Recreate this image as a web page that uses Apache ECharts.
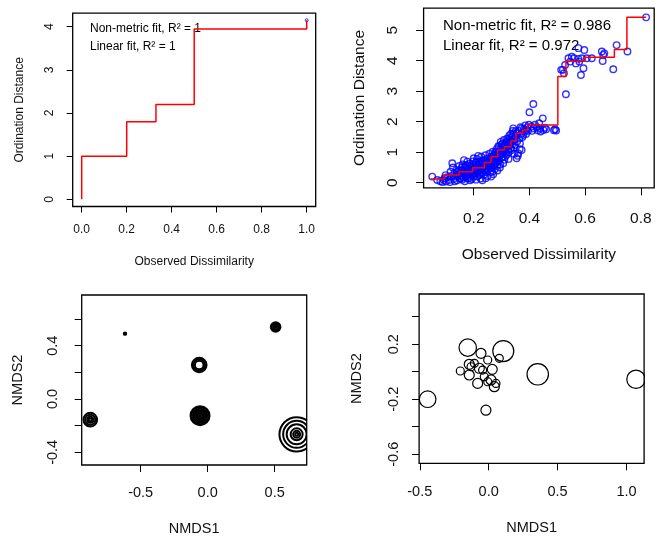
<!DOCTYPE html>
<html><head><meta charset="utf-8">
<script src="https://cdn.jsdelivr.net/npm/echarts@6/dist/echarts.min.js"></script>
<style>html,body{margin:0;padding:0;background:#fff}#c{width:662px;height:539px}</style>
</head><body><div id="c"></div><script>
// ---------- DATA ----------
// Panel 1: Shepard step (non-metric fit)
const stepA_x = [0, 0, 0.2, 0.33, 0.5, 1.0, 1.0];
const stepA_y = [0, 1, 1.8, 2.2, 3.95, 3.95, 4.15];
const shepA_pts = [[1.0, 4.15]];
// Panel 2: Shepard step + observed points
const stepB_x = [0.046, 0.094, 0.148, 0.196, 0.238, 0.262, 0.286, 0.31, 0.334, 0.352, 0.376, 0.394, 0.502, 0.531, 0.60, 0.705, 0.75, 0.819];
const stepB_y = [0.12, 0.25, 0.36, 0.49, 0.66, 0.85, 1.07, 1.18, 1.37, 1.62, 1.73, 1.89, 3.48, 3.99, 4.11, 4.37, 5.42, 5.42];
const shepB_pts = [
[0.051,0.20],[0.069,0.09],[0.08,0.05],[0.093,0.09],[0.099,0.25],[0.095,0.15],[0.088,0.02],[0.1,0.04],
[0.111,0.09],[0.117,0.36],[0.105,0.18],[0.12,0.22],[0.123,0.64],[0.125,0.5],[0.13,0.3],[0.128,0.12],[0.135,0.20],[0.138,0.42],[0.141,0.36],[0.14,0.08],[0.145,0.28],[0.148,0.55],[0.15,0.14],[0.115,0.02],[0.132,0.05],
[0.153,0.14],[0.155,0.4],[0.158,0.25],[0.16,0.6],[0.162,0.33],[0.165,0.74],[0.167,0.48],[0.17,0.2],[0.172,0.38],[0.175,0.55],[0.177,0.69],[0.177,0.14],[0.18,0.3],[0.182,0.45],[0.185,0.62],[0.187,0.08],[0.19,0.35],[0.192,0.5],[0.195,0.25],[0.197,0.7],[0.2,0.42],[0.2,0.8],[0.201,0.2],[0.158,0.1],[0.168,0.05],[0.183,0.15],[0.193,0.12],
[0.203,0.55],[0.205,0.32],[0.207,0.65],[0.21,0.45],[0.212,0.78],[0.213,0.2],[0.215,0.38],[0.218,0.6],[0.22,0.5],[0.222,0.7],[0.225,0.14],[0.225,0.3],[0.227,0.85],[0.23,0.42],[0.232,0.62],[0.234,0.55],[0.236,0.25],[0.238,0.75],[0.24,0.48],[0.242,0.9],[0.244,0.35],[0.246,0.65],[0.248,0.58],[0.25,0.8],[0.25,0.22],[0.208,0.1],[0.219,0.25],[0.231,0.08],[0.243,0.15],[0.216,0.88],
[0.252,0.45],[0.254,0.7],[0.256,0.95],[0.258,0.55],[0.26,0.35],[0.261,0.64],[0.263,0.85],[0.265,0.5],[0.267,0.36],[0.268,1.02],[0.27,0.75],[0.272,0.6],[0.274,0.9],[0.276,0.45],[0.278,0.8],[0.279,0.96],[0.28,0.65],[0.282,1.1],[0.284,0.55],[0.286,0.85],[0.288,1.2],[0.29,0.72],[0.291,1.18],[0.293,0.95],[0.295,0.6],[0.297,1.34],[0.298,1.05],[0.3,0.82],[0.3,1.25],[0.27,0.28],[0.285,0.4],[0.262,0.2],[0.294,0.5],
[0.302,0.95],[0.304,1.15],[0.306,0.64],[0.308,1.4],[0.31,1.05],[0.312,0.85],[0.314,1.3],[0.316,1.1],[0.318,0.91],[0.32,1.45],[0.322,1.2],[0.324,1.29],[0.326,1.0],[0.328,1.55],[0.33,1.35],[0.332,1.12],[0.334,1.6],[0.336,1.51],[0.336,1.07],[0.338,1.25],[0.34,1.7],[0.342,1.78],[0.344,1.4],[0.346,1.15],[0.348,1.24],[0.35,1.55],[0.31,0.75],[0.325,0.78],[0.345,0.95],
[0.354,1.62],[0.354,0.80],[0.356,1.35],[0.36,0.96],[0.362,1.7],[0.364,1.45],[0.366,1.29],[0.368,1.82],[0.37,1.6],[0.372,1.78],[0.372,1.07],[0.375,1.5],[0.378,1.56],[0.38,1.75],[0.382,1.68],[0.385,1.88],[0.388,1.6],[0.39,1.73],[0.392,1.82],[0.395,1.7],[0.398,1.9],[0.358,0.88],[0.365,1.1],
[0.40,2.31],[0.414,2.58],[0.408,1.84],[0.41,1.7],[0.415,1.78],[0.42,1.9],[0.426,1.82],[0.43,1.72],[0.435,1.95],[0.438,1.78],[0.44,1.68],[0.448,2.11],[0.45,1.73],[0.455,1.8],[0.46,1.75],[0.492,1.75],[0.496,1.71],[0.488,1.72],
[0.514,3.70],[0.52,3.70],[0.524,3.59],[0.531,2.90],[0.528,3.86],[0.54,4.08],[0.546,3.97],[0.552,4.13],[0.56,4.08],[0.567,3.91],[0.576,4.41],[0.576,4.06],[0.585,3.53],[0.588,4.08],[0.594,3.75],[0.597,4.35],[0.579,3.97],[0.606,4.08],[0.624,4.08],[0.66,4.30],[0.665,4.19],[0.663,3.99],[0.669,4.24],[0.701,3.72],[0.713,4.51],[0.752,4.30],[0.819,5.42],
[0.142,0.22],[0.147,0.4],[0.152,0.3],[0.157,0.5],[0.163,0.18],[0.166,0.36],[0.171,0.58],[0.174,0.27],[0.179,0.42],[0.184,0.3],[0.188,0.55],[0.191,0.22],[0.194,0.4],[0.198,0.6],[0.202,0.3],[0.206,0.5],[0.209,0.68],[0.211,0.35],[0.214,0.55],[0.217,0.42],[0.221,0.62],[0.224,0.48],[0.228,0.7],[0.229,0.35],[0.233,0.5],[0.237,0.62],[0.239,0.4],[0.241,0.72],[0.245,0.55],[0.247,0.45],[0.249,0.68],[0.253,0.6],[0.257,0.78],[0.259,0.48],[0.264,0.7],[0.266,0.62],[0.269,0.88],[0.271,0.55],[0.275,0.7],[0.277,1.0],[0.281,0.78],[0.283,0.92],[0.287,0.7],[0.289,1.0],[0.292,0.85],[0.296,1.12],[0.299,0.95],[0.303,1.28],[0.307,1.02],[0.311,1.22],[0.315,0.98],[0.319,1.35],[0.323,1.08],[0.327,1.42],[0.331,1.25],[0.335,1.35],[0.339,1.5],[0.343,1.62],[0.347,1.45],[0.351,1.7]
];
// Panel 3: site bubbles (NMDS1, NMDS2, bubble size)
const sitesA_x = [-0.617, 0.507,0.507,0.507,0.507, -0.063,-0.063,-0.063, -0.057,-0.057,-0.057,-0.057,-0.057,-0.057,-0.057, -0.876,-0.876,-0.876,-0.876, 0.664,0.664,0.664,0.664,0.664,0.664];
const sitesA_y = [0.49, 0.54,0.54,0.54,0.54, 0.255,0.255,0.255, -0.125,-0.125,-0.125,-0.125,-0.125,-0.125,-0.125, -0.155,-0.155,-0.155,-0.155, -0.265,-0.265,-0.265,-0.265,-0.265,-0.265];
const sitesA_size = [0.12, 0.1,0.25,0.4,0.48, 0.43,0.58,0.73, 0.1,0.25,0.4,0.55,0.7,0.85,0.95, 0.15,0.3,0.5,0.68, 0.15,0.35,0.6,1.0,1.35,1.72];
// Panel 4: site bubbles
const sitesB_x = [-0.443,-0.152,0.106,0.356,1.069,-0.02,-0.206,-0.141,-0.141,-0.056,-0.08,-0.007,0.026,0.017,0.041,0.077,-0.068,-0.104,-0.032,-0.044,-0.007,-0.128,0.053];
const sitesB_y = [-0.2,0.175,0.15,-0.019,-0.055,-0.28,0.005,0.054,-0.024,0.134,-0.085,0.085,0.017,-0.06,-0.109,0.097,0.025,0.061,-0.036,0.012,-0.073,0.036,-0.085];
const sitesB_size = [0.83,0.87,1.05,1.07,0.92,0.5,0.4,0.5,0.5,0.5,0.5,0.4,0.5,0.5,0.5,0.4,0.5,0.4,0.4,0.4,0.4,0.4,0.4];
// Tick values
const ticksA_x = [0, 0.2, 0.4, 0.6, 0.8, 1.0];
const ticksA_y = [0, 1, 2, 3, 4];
const ticksB_x = [0.2, 0.4, 0.6, 0.8];
const ticksB_y = [0, 1, 2, 3, 4, 5];
const ticksC_x = [-0.5, 0, 0.5];
const ticksC_y = [-0.4, -0.2, 0, 0.2, 0.4, 0.6];
const labelsC_y = [-0.4, 0, 0.4];
const ticksD_x = [-0.5, 0, 0.5, 1.0];
const ticksD_y = [-0.6, -0.4, -0.2, 0, 0.2, 0.4];
const labelsD_y = [-0.6, -0.2, 0.2];

// ---------- CHART ----------
const FONT = '"Liberation Sans", Arial, sans-serif';
const chart = echarts.init(document.getElementById('c'));

function ax(o) {
  return {
    type: 'value', gridIndex: o.g, min: o.min, max: o.max,
    axisLine: { show: false, onZero: false },
    splitLine: { show: false },
    axisTick: { show: true, length: o.tl || 6, lineStyle: { color: '#000', width: 1 }, customValues: o.ticks },
    axisLabel: {
      customValues: o.labels || o.ticks, rotate: o.rot || 0, margin: o.lm,
      fontSize: o.fs, fontFamily: FONT, color: '#111',
      align: 'center', verticalAlign: 'middle',
      formatter: o.fmt
    },
    name: o.name, nameLocation: 'middle', nameGap: o.ng, nameRotate: o.rot || 0,
    nameMoveOverlap: false,
    nameTextStyle: { fontSize: o.fs, fontFamily: FONT, color: '#111', align: 'center', verticalAlign: 'middle' }
  };
}
const f1 = v => v.toFixed(1), f0 = v => v.toFixed(0);

function bubbles(xs, ys, ss, gi, lw) {
  return {
    type: 'custom', xAxisIndex: gi, yAxisIndex: gi, clip: true,
    data: xs.map((x, i) => [x, ys[i], ss[i]]),
    encode: { x: 0, y: 1 },
    renderItem: (p, api) => {
      const c = api.coord([api.value(0), api.value(1)]);
      return { type: 'circle', shape: { cx: c[0], cy: c[1], r: api.value(2) * 10 },
        style: { fill: 'none', stroke: '#000', lineWidth: lw } };
    }
  };
}
const gridBase = { show: true, borderColor: '#000', borderWidth: 1.3, backgroundColor: 'transparent', containLabel: false, outerBoundsMode: 'none' };

chart.setOption({
  animation: false,
  grid: [
    Object.assign({ left: 72.7, top: 13.1, width: 243, height: 193.4 }, gridBase),
    Object.assign({ left: 423.6, top: 8.2, width: 230.6, height: 179.7 }, gridBase),
    Object.assign({ left: 81.7, top: 295, width: 225, height: 170 }, gridBase),
    Object.assign({ left: 419.1, top: 294, width: 225, height: 169.3 }, gridBase)
  ],
  xAxis: [
    ax({ g: 0, min: -0.04, max: 1.04, ticks: ticksA_x, lm: 23.5, fs: 12, fmt: f1, name: 'Observed Dissimilarity', ng: 55.5 }),
    ax({ g: 1, min: 0.02, max: 0.848, ticks: ticksB_x, lm: 30.4, fs: 15.5, fmt: f1, name: 'Observed Dissimilarity', ng: 67, tl: 7.5 }),
    ax({ g: 2, min: -0.94, max: 0.739, ticks: ticksC_x, lm: 28.3, fs: 14.5, fmt: f1, name: 'NMDS1', ng: 64.3, tl: 7 }),
    ax({ g: 3, min: -0.505, max: 1.128, ticks: ticksD_x, lm: 28.4, fs: 14.5, fmt: f1, name: 'NMDS1', ng: 65, tl: 7 })
  ],
  yAxis: [
    ax({ g: 0, min: -0.166, max: 4.316, ticks: ticksA_y, lm: 23, fs: 12, fmt: f0, rot: 90, name: 'Ordination Distance', ng: 53 }),
    ax({ g: 1, min: -0.17, max: 5.72, ticks: ticksB_y, lm: 31, fs: 15.5, fmt: f0, rot: 90, name: 'Ordination Distance', ng: 64, tl: 7.5 }),
    ax({ g: 2, min: -0.495, max: 0.78, ticks: ticksC_y, labels: labelsC_y, lm: 28.4, fs: 14.5, fmt: f1, rot: 90, name: 'NMDS2', ng: 63.4, tl: 7 }),
    ax({ g: 3, min: -0.666, max: 0.565, ticks: ticksD_y, labels: labelsD_y, lm: 24.8, fs: 14.5, fmt: f1, rot: 90, name: 'NMDS2', ng: 62, tl: 7 })
  ],
  series: [
    { type: 'scatter', xAxisIndex: 0, yAxisIndex: 0, data: shepA_pts, symbol: 'circle', symbolSize: 3,
      itemStyle: { color: 'transparent', borderColor: '#0000ff', borderWidth: 1 } },
    { type: 'line', xAxisIndex: 0, yAxisIndex: 0, step: 'end', symbol: 'none',
      data: stepA_x.map((x, i) => [x, stepA_y[i]]), lineStyle: { color: '#ff0000', width: 1.5 } },
    { type: 'scatter', xAxisIndex: 1, yAxisIndex: 1, data: shepB_pts, symbol: 'circle', symbolSize: 6.5,
      itemStyle: { color: 'rgba(255,255,255,0)', borderColor: '#0000ff', borderWidth: 1.4 } },
    { type: 'line', xAxisIndex: 1, yAxisIndex: 1, step: 'end', symbol: 'none',
      data: stepB_x.map((x, i) => [x, stepB_y[i]]), lineStyle: { color: '#ff0000', width: 1.5 } },
    bubbles(sitesA_x, sitesA_y, sitesA_size, 2, 2),
    bubbles(sitesB_x, sitesB_y, sitesB_size, 3, 1.2)
  ],
  graphic: [
    { type: 'text', x: 90, y: 29, style: { text: 'Non-metric fit, R² = 1', fontSize: 12, fontFamily: FONT, fill: '#000', verticalAlign: 'middle' } },
    { type: 'text', x: 90, y: 47, style: { text: 'Linear fit, R² = 1', fontSize: 12, fontFamily: FONT, fill: '#000', verticalAlign: 'middle' } },
    { type: 'text', x: 443, y: 26, style: { text: 'Non-metric fit, R² = 0.986', fontSize: 15, fontFamily: FONT, fill: '#000', verticalAlign: 'middle' } },
    { type: 'text', x: 443, y: 46, style: { text: 'Linear fit, R² = 0.972', fontSize: 15, fontFamily: FONT, fill: '#000', verticalAlign: 'middle' } }
  ]
});
</script></body></html>
